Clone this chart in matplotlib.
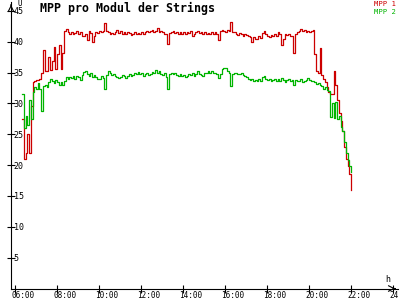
import matplotlib
matplotlib.use("Agg")
import matplotlib.pyplot as plt
import matplotlib.transforms as mtransforms
import numpy as np

# 5-Minuten-Werte ab 06:20 bis 22:00
start_h = 6 + 20 / 60
step_h = 5 / 60

mpp1 = [
    27.4, 21.0, 22.0, 25.0, 22.0, 29.5, 33.4, 33.6,                          # 06
    33.8, 33.8, 34.0, 35.0, 38.6, 35.2, 35.3, 37.6, 35.4, 36.8, 39.2, 35.5,  # 07
    38.0, 39.5, 35.6, 38.2, 41.7, 42.0, 41.6, 41.3, 41.5, 41.2, 41.4, 41.8,  # 08
    41.3, 41.5, 41.0, 41.0, 41.2, 40.2, 41.7, 41.4, 39.9, 41.0, 41.6, 41.4,  # 09
    41.7, 41.5, 41.8, 43.0, 41.8, 41.5, 41.2, 41.4, 41.3, 41.6, 41.9, 41.4,  # 10
    41.7, 41.2, 41.5, 41.3, 41.6, 41.4, 41.1, 41.2, 41.5, 41.3, 41.4, 41.2,  # 11
    41.5, 41.3, 41.6, 41.8, 41.5, 41.7, 41.9, 41.6, 41.7, 42.2, 41.6, 41.8,  # 12
    41.5, 41.2, 41.3, 39.7, 41.4, 41.5, 41.8, 41.4, 41.6, 41.3, 41.5, 41.2,  # 13
    41.5, 41.3, 41.6, 41.4, 41.7, 41.0, 41.3, 41.6, 41.8, 41.4, 41.6, 41.3,  # 14
    41.5, 41.3, 41.4, 41.2, 41.5, 41.3, 41.6, 41.2, 40.2, 41.7, 41.9, 41.8,  # 15
    41.6, 41.9, 41.7, 43.2, 41.5, 41.6, 41.3, 41.1, 41.4, 41.2, 41.0, 41.3,  # 16
    41.1, 40.9, 40.7, 40.0, 40.8, 40.5, 40.4, 40.9, 40.6, 41.4, 41.7, 41.2,  # 17
    41.0, 40.8, 41.1, 40.9, 41.2, 41.0, 41.5, 41.3, 39.5, 40.4, 41.2, 41.1,  # 18
    41.3, 41.0, 40.9, 38.2, 41.2, 41.5, 41.7, 42.0, 41.7, 41.9, 41.6, 41.8,  # 19
    41.5, 41.7, 41.9, 38.0, 35.2, 35.0, 39.0, 34.6, 34.0, 33.4, 32.6, 31.8,  # 20
    31.5, 31.6, 35.2, 33.0, 30.5, 28.5, 27.2, 25.5, 23.0, 21.0, 19.8, 18.5,  # 21
    16.0,                                                                    # 22
]

mpp2 = [
    31.5, 26.0, 28.0, 26.5, 30.5, 27.5, 31.8, 32.6,                          # 06
    32.3, 33.3, 32.4, 28.8, 32.8, 33.0, 32.6, 33.5, 33.9, 33.6, 33.3, 33.8,  # 07
    33.4, 33.0, 33.5, 33.0, 33.6, 34.2, 34.0, 34.3, 34.1, 34.4, 33.9, 34.5,  # 08
    34.2, 33.8, 34.6, 35.1, 35.3, 34.8, 34.5, 34.9, 34.2, 34.6, 34.3, 34.0,  # 09
    33.9, 34.4, 34.1, 32.4, 34.6, 35.2, 34.9, 34.6, 34.8, 34.5, 34.3, 34.1,  # 10
    34.3, 34.6, 34.4, 34.1, 34.5, 34.7, 34.4, 34.6, 35.0, 34.8, 35.1, 34.7,  # 11
    34.9, 34.5, 34.7, 34.9, 34.6, 34.8, 35.1, 34.9, 35.4, 35.0, 35.3, 34.8,  # 12
    34.6, 34.9, 34.3, 32.3, 34.7, 35.0, 34.8, 34.9, 34.6, 34.5, 34.7, 34.4,  # 13
    34.6, 34.3, 34.5, 34.8, 34.6, 34.9, 34.5, 34.7, 35.3, 34.8, 34.6, 34.4,  # 14
    34.9, 35.0, 35.3, 35.0, 35.2, 34.9, 35.0, 34.7, 34.1, 34.8, 35.6, 35.8,  # 15
    35.7, 35.3, 35.0, 32.8, 34.7, 35.0, 34.9, 34.8, 34.7, 34.9, 34.6, 34.4,  # 16
    34.3, 34.0, 33.8, 33.9, 33.6, 33.8, 33.7, 33.9, 33.6, 34.2, 34.4, 34.0,  # 17
    33.8, 33.9, 33.6, 33.8, 34.0, 33.7, 33.9, 33.6, 34.1, 33.8, 33.5, 33.8,  # 18
    33.9, 33.7, 33.8, 33.0, 33.8, 33.6, 33.7, 33.9, 33.5, 33.7, 33.8, 34.1,  # 19
    33.8, 33.6, 33.7, 33.4, 33.2, 33.3, 33.0, 32.8, 32.4, 32.6, 32.2, 32.0,  # 20
    27.8, 30.0, 27.6, 30.2, 27.5, 28.0, 26.2, 25.5, 23.8, 22.0, 20.8, 19.8,  # 21
    18.9,                                                                    # 22
]

x_ticks = list(range(6, 25, 2))
x_labels = ["%02d:00" % h for h in x_ticks]
y_ticks = [5, 10, 15, 20, 25, 30, 35, 40, 45]

hours = start_h + np.arange(len(mpp1)) * step_h

fig = plt.figure(figsize=(4, 3), dpi=100)
ax = fig.add_axes([11 / 400, 11.5 / 300, 387 / 400, 286.5 / 300])
ax.set_xlim(6 - 4 / 21, 6 + 383 / 21)
ax.set_ylim(0, 286.5 / 6.17)

ax.plot(hours, mpp1, color="#cc0000", lw=0.9, drawstyle="steps-post")
ax.plot(hours, mpp2, color="#00b400", lw=0.9, drawstyle="steps-post")

for s in ["top", "right"]:
    ax.spines[s].set_visible(False)
for s in ["left", "bottom"]:
    ax.spines[s].set_linewidth(0.8)

mono = "DejaVu Sans Mono"
ax.set_xticks(x_ticks)
ax.set_xticklabels(x_labels, family=mono, fontsize=5.5, ha="left")
ax.set_yticks(y_ticks)
ax.set_yticklabels([str(v) for v in y_ticks], family=mono, fontsize=6, ha="left")
ax.tick_params(axis="both", direction="inout", length=6, width=0.8)
ax.tick_params(axis="x", pad=-1)
ax.tick_params(axis="y", pad=-5)
shift = mtransforms.ScaledTranslation(-4 / 100, 0, fig.dpi_scale_trans)
for lab in ax.get_xticklabels():
    lab.set_transform(lab.get_transform() + shift)

# Pfeile an den Achsen
ax.annotate("", xy=(1, 0), xytext=(0.985, 0), xycoords="axes fraction",
            arrowprops=dict(arrowstyle="->", lw=0.8, color="black"))
ax.annotate("", xy=(0, 1), xytext=(0, 0.98), xycoords="axes fraction",
            arrowprops=dict(arrowstyle="->", lw=0.8, color="black"))

fig.text(17 / 400, 1 - 3.5 / 300, "U", family=mono, fontsize=5.5, va="center")
fig.text(385 / 400, 1 - 280 / 300, "h", family=mono, fontsize=6, va="center")
fig.text(40 / 400, 1 - 8 / 300, "MPP pro Modul der Strings", family=mono,
         fontsize=8.4, weight="bold", va="center")
fig.text(396 / 400, 1 - 4.5 / 300, "MPP 1", family=mono, fontsize=5.2,
         color="#cc0000", ha="right", va="center")
fig.text(396 / 400, 1 - 12.5 / 300, "MPP 2", family=mono, fontsize=5.2,
         color="#00b400", ha="right", va="center")

fig.savefig("out.png", dpi=100)
